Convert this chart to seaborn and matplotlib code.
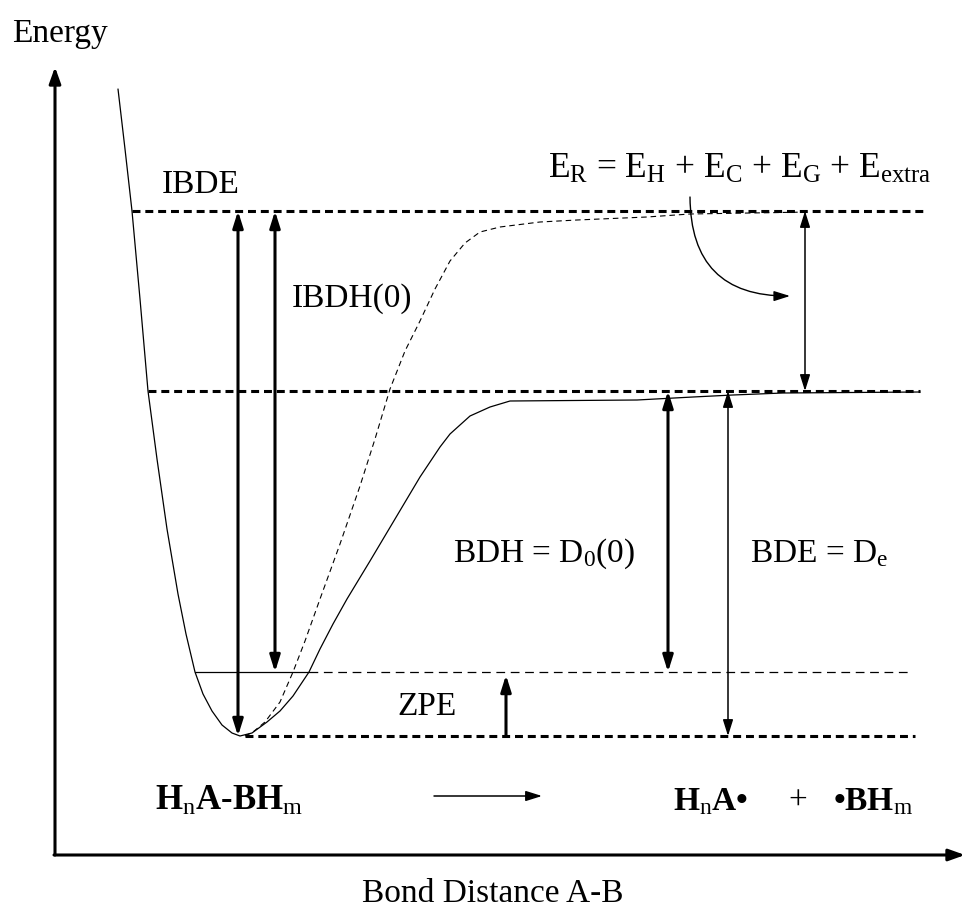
import numpy as np
import matplotlib
matplotlib.use("Agg")
import matplotlib.pyplot as plt
import seaborn as sns

# ---- diagram data (pixel space of the original figure, y grows downward) ----
# Morse-like potential of the real molecule (solid curve)
morse_x = [118, 125, 132, 140, 148, 157, 167, 178, 186, 195, 203, 212, 222, 232,
           240, 252, 267, 280, 293, 309, 320, 333, 347, 370, 395, 420, 440, 450,
           470, 490, 510, 637, 693, 733, 783, 920]
morse_y = [90, 150, 212, 300, 392, 460, 530, 595, 635, 673, 695, 712, 726, 734,
           737, 734, 723, 712, 697, 673, 650, 625, 600, 562, 520, 478, 448, 435,
           417, 408, 402, 401, 398, 396, 394, 393]

# hypothetical "intrinsic" curve (dashed)
ideal_x = [245, 253, 265, 280, 293, 305, 320, 340, 360, 375, 390, 405, 420, 435,
           450, 465, 480, 500, 540, 577, 647, 690, 750, 810]
ideal_y = [737, 733, 723, 703, 673, 642, 600, 545, 487, 440, 390, 352, 322, 290,
           262, 244, 233, 228, 223, 221, 218, 215, 214, 213]

# energy levels
level_names = ["IBDE", "dissociation", "ZPE", "minimum"]
level_y = [212, 392, 673, 737]
level_x0 = [132, 148, 309, 245]
level_x1 = [925, 920, 910, 915]
zpe_solid = [195, 309]

# vertical energy arrows: x, from y, to y
arrow_names = ["IBDE", "IBDH(0)", "BDH", "BDE", "ER"]
arrow_x = [238, 275, 668, 728, 805]
arrow_y0 = [212, 212, 392, 392, 212]
arrow_y1 = [737, 673, 673, 737, 392]
arrow_thick = [True, True, True, False, False]

W, H = 967, 920

sns.set_theme(style="white")
plt.rcParams["font.family"] = ["Liberation Serif", "DejaVu Serif"]
plt.rcParams["text.color"] = "black"
plt.rcParams["mathtext.fontset"] = "custom"
plt.rcParams["mathtext.rm"] = "Liberation Serif"
plt.rcParams["mathtext.it"] = "Liberation Serif:italic"
plt.rcParams["mathtext.bf"] = "Liberation Serif:bold"

fig = plt.figure(figsize=(W / 100, H / 100), dpi=100)
ax = fig.add_axes([0, 0, 1, 1])
ax.set_xlim(0, W)
ax.set_ylim(H, 0)
ax.axis("off")

# curves
sns.lineplot(x=morse_x, y=morse_y, sort=False, estimator=None, ax=ax,
             color="black", lw=0.9)
sns.lineplot(x=ideal_x, y=ideal_y, sort=False, estimator=None, ax=ax,
             color="black", lw=0.8, linestyle=(0, (5, 3.5)))

# levels
thick_dash = (0, (2.6, 1.6))
for name, y, x0, x1 in zip(level_names, level_y, level_x0, level_x1):
    if name == "ZPE":
        ax.plot(zpe_solid, [y, y], color="black", lw=0.9)
        ax.plot([x0, x1], [y, y], color="black", lw=0.9, linestyle=(0, (7, 4.5)))
    else:
        ax.plot([x0, x1], [y, y], color="black", lw=2.2, linestyle=thick_dash)

# axes arrows
axis_kw = dict(arrowstyle="-|>,head_length=0.7,head_width=0.25", color="black",
               lw=2.2, shrinkA=0, shrinkB=0, mutation_scale=14)
ax.annotate("", xy=(55, 68), xytext=(55, 856), arrowprops=axis_kw)
ax.annotate("", xy=(965, 856), xytext=(54, 856), arrowprops=axis_kw)

# vertical energy arrows
for x, y0, y1, thick in zip(arrow_x, arrow_y0, arrow_y1, arrow_thick):
    ax.annotate("", xy=(x, y1), xytext=(x, y0),
                arrowprops=dict(arrowstyle="<|-|>,head_length=0.7,head_width=0.22",
                                color="black", lw=2.2 if thick else 1.1,
                                shrinkA=0, shrinkB=0, mutation_scale=14))

# ZPE arrow (single head)
ax.annotate("", xy=(506, 676), xytext=(506, 737),
            arrowprops=dict(arrowstyle="-|>,head_length=0.7,head_width=0.22",
                            color="black", lw=2.2, shrinkA=0, shrinkB=0,
                            mutation_scale=14))

# curved arrow from the E_R expression
ax.annotate("", xy=(790, 297), xytext=(690, 198),
            arrowprops=dict(arrowstyle="-|>,head_length=0.7,head_width=0.22",
                            color="black", lw=1.0, shrinkA=0, shrinkB=0,
                            mutation_scale=14,
                            connectionstyle="arc3,rad=0.5"))

# reaction arrow
ax.annotate("", xy=(542, 797), xytext=(434, 797),
            arrowprops=dict(arrowstyle="-|>,head_length=0.7,head_width=0.22",
                            color="black", lw=1.1, shrinkA=0, shrinkB=0,
                            mutation_scale=14))

# labels
fs = 24
ax.text(12, 42, "Energy", fontsize=fs, va="baseline")
ax.text(162, 193, "IBDE", fontsize=fs, va="baseline")
ax.text(292, 307, "IBDH(0)", fontsize=fs, va="baseline")
ax.text(548, 178,
        r"E$_\mathrm{R}$ = E$_\mathrm{H}$ + E$_\mathrm{C}$ + E$_\mathrm{G}$ + E$_\mathrm{extra}$",
        fontsize=25.5, va="baseline")
ax.text(453, 562, r"BDH = D$_\mathrm{0}$(0)", fontsize=fs, va="baseline")
ax.text(750, 562, r"BDE = D$_\mathrm{e}$", fontsize=fs, va="baseline")
ax.text(397, 715, "ZPE", fontsize=fs, va="baseline")
ax.text(155, 810, r"H$_\mathrm{n}$A-BH$_\mathrm{m}$", fontsize=25,
        fontweight="bold", va="baseline")
ax.text(673, 810, "H$_\\mathrm{n}$A\u2022", fontsize=fs, fontweight="bold",
        va="baseline")
ax.text(798, 810, "+", fontsize=fs, ha="center", va="baseline")
ax.text(833, 810, "\u2022BH$_\\mathrm{m}$", fontsize=fs, fontweight="bold",
        va="baseline")
ax.text(362, 902, "Bond Distance A-B", fontsize=fs, va="baseline")

fig.savefig("out.png", dpi=100, facecolor="white")
